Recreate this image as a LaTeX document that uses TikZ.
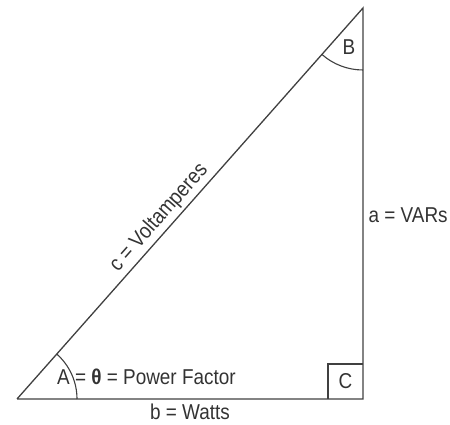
\documentclass[tikz,border=0pt]{standalone}
\usepackage{fontspec}
\setmainfont{Liberation Sans}[FakeStretch=0.88]
\usetikzlibrary{positioning}

\begin{document}
\begin{tikzpicture}[x=1pt, y=1pt,
  side/.style={draw=black!75, line width=1.3pt},
  anglemark/.style={draw=black!75, line width=1.1pt},
  lbl/.style={font=\fontsize{21.5}{23}\selectfont, text=black!80, inner sep=2pt}]
  \useasboundingbox (0,0) rectangle (450,425);
  % vertices
  \coordinate (A) at (17,26);
  \coordinate (C) at (363,26);
  \coordinate (B) at (363,417);
  % triangle
  \draw[side] (A) -- node[lbl, below=2pt] (watts) {b = Watts} (C)
    -- node[lbl, right=3pt, pos=0.47] (vars) {a = VARs} (B)
    -- node[lbl, above=1pt, sloped, pos=0.56] (va) {c = Voltamperes} (A);
  % angle marks
  \draw[anglemark] ([xshift=60]A) arc[start angle=0, end angle=48.5, radius=60];
  \draw[anglemark] ([yshift=-62]B) arc[start angle=270, end angle=228.5, radius=62];
  \draw[anglemark] ([xshift=-35]C) |- ([yshift=35]C);
  % angle labels
  \node[lbl, anchor=base west] (angA) at ([xshift=38,yshift=14]A) {A = \textbf{θ} = Power Factor};
  \node[lbl] (angB) at ([xshift=-14,yshift=-39]B) {B};
  \node[lbl] (angC) at ([xshift=-17.5,yshift=17.5]C) {C};
\end{tikzpicture}
\end{document}
